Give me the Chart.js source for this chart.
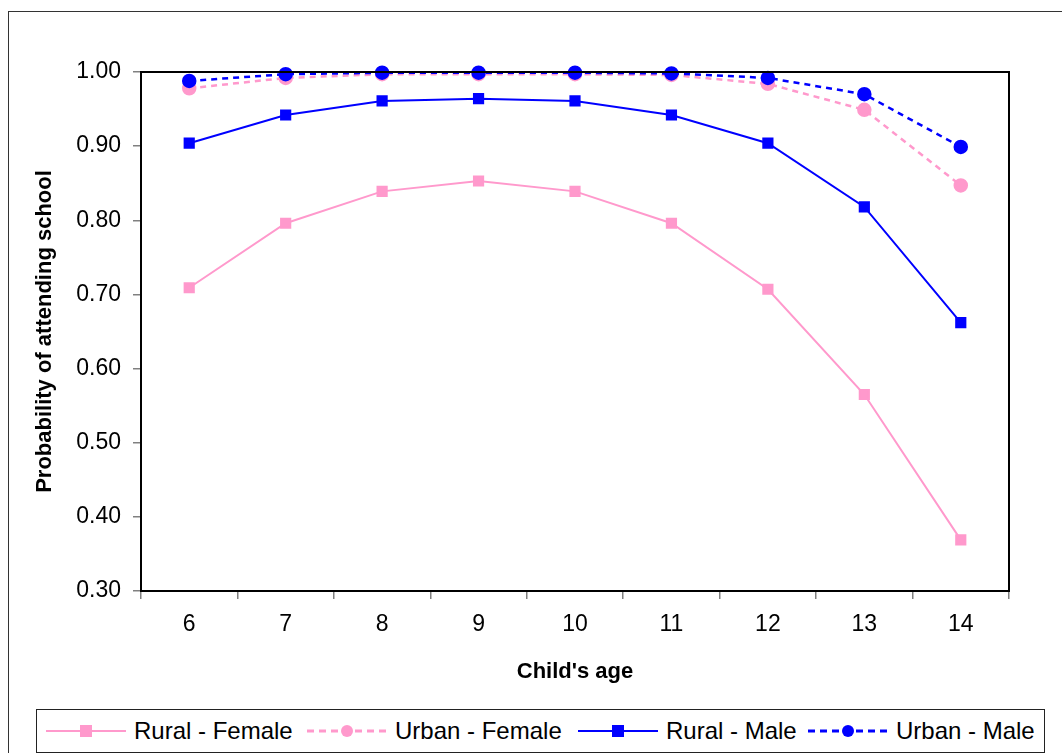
<!DOCTYPE html>
<html>
<head>
<meta charset="utf-8">
<script src="https://cdn.jsdelivr.net/npm/chart.js@4.4.1/dist/chart.umd.min.js"></script>
<style>
  body { margin: 0; background: #fff; font-family: "Liberation Sans", Arial, sans-serif; }
  #frame { position: absolute; left: 8px; top: 11px; width: 1070px; height: 760px; border: 1.5px solid #333; box-sizing: border-box; }
  #wrap { position: absolute; left: 0; top: 0; width: 1062px; height: 700px; }
  #legend { position: absolute; left: 36px; top: 709px; width: 1009px; height: 44px; border: 1px solid #222; box-sizing: border-box; background: #fff; }
  #legend .item { position: absolute; top: 0; height: 42px; display: flex; align-items: center; font-size: 24px; color: #000; white-space: nowrap; }
  #legend svg { margin-right: 8px; flex: none; }
</style>
</head>
<body>
<div id="frame"></div>
<div id="wrap"><canvas id="chart"></canvas></div>
<div id="legend"></div>
<script>
// data
var ages = ['6', '7', '8', '9', '10', '11', '12', '13', '14'];
var ruralFemale = [0.709, 0.796, 0.839, 0.853, 0.839, 0.796, 0.707, 0.565, 0.369];
var urbanFemale = [0.978, 0.992, 0.997, 0.997, 0.997, 0.996, 0.984, 0.949, 0.847];
var ruralMale = [0.904, 0.942, 0.961, 0.964, 0.961, 0.942, 0.904, 0.818, 0.662];
var urbanMale = [0.988, 0.997, 0.999, 0.999, 0.999, 0.998, 0.992, 0.970, 0.899];
var seriesNames = ['Rural - Female', 'Urban - Female', 'Rural - Male', 'Urban - Male'];

var pink = '#FF99CC';
var blue = '#0000FF';
var font = "'Liberation Sans', Arial, sans-serif";

// border around the plot area
function drawBox(chart) {
    var a = chart.chartArea, c = chart.ctx;
    c.save();
    c.strokeStyle = '#000';
    c.lineWidth = 2;
    c.strokeRect(a.left, a.top, a.right - a.left, a.bottom - a.top);
    c.restore();
}
var plotBorder = {
    id: 'plotBorder',
    beforeDatasetsDraw: drawBox,
    afterDatasetsDraw: drawBox
};

var ctx = document.getElementById('chart').getContext('2d');
var myChart = new Chart(ctx, {
    type: 'line',
    data: {
        labels: ages,
        datasets: [{
            label: seriesNames[0],
            data: ruralFemale,
            borderColor: pink,
            backgroundColor: pink,
            borderWidth: 2,
            pointStyle: 'rect',
            pointRadius: 6.5,
            order: 4
        }, {
            label: seriesNames[1],
            data: urbanFemale,
            borderColor: pink,
            backgroundColor: pink,
            borderWidth: 2.5,
            borderDash: [6, 5],
            pointStyle: 'circle',
            pointRadius: 6,
            order: 3
        }, {
            label: seriesNames[2],
            data: ruralMale,
            borderColor: blue,
            backgroundColor: blue,
            borderWidth: 2,
            pointStyle: 'rect',
            pointRadius: 6.5,
            order: 2
        }, {
            label: seriesNames[3],
            data: urbanMale,
            borderColor: blue,
            backgroundColor: blue,
            borderWidth: 2.5,
            borderDash: [6, 5],
            pointStyle: 'circle',
            pointRadius: 6,
            order: 1
        }]
    },
    options: {
        responsive: true,
        maintainAspectRatio: false,
        animation: false,
        clip: false,
        layout: { padding: { top: 72, right: 53, left: 0, bottom: 0 } },
        plugins: {
            legend: { display: false },
            tooltip: { enabled: false }
        },
        elements: { line: { tension: 0 }, point: { borderWidth: 0 } },
        scales: {
            x: {
                offset: true,
                grid: { offset: true, drawOnChartArea: false, drawTicks: true, tickLength: 8, color: '#808080', lineWidth: 1.5 },
                border: { display: false },
                ticks: { color: '#000', padding: 12, font: { family: font, size: 23 } },
                title: { display: true, text: "Child's age", color: '#000', padding: { top: 0, bottom: 15 }, font: { family: font, size: 22, weight: 'bold' } },
                afterFit: function (s) { s.height = 109; }
            },
            y: {
                min: 0.3,
                max: 1.0,
                grid: { drawOnChartArea: false, drawTicks: true, tickLength: 8, color: '#808080', lineWidth: 1.5 },
                border: { display: false },
                ticks: {
                    stepSize: 0.1,
                    color: '#000',
                    padding: 12,
                    font: { family: font, size: 23 },
                    callback: function (v) { return Number(v).toFixed(2); }
                },
                title: { display: true, text: 'Probability of attending school', color: '#000', padding: { top: 32, bottom: 0 }, font: { family: font, size: 22, weight: 'bold' } },
                afterFit: function (s) { s.width = 141; }
            }
        }
    },
    plugins: [plotBorder]
});

// legend drawn as html, samples as small svg
var legendItems = [
    { left: 9, color: pink, dash: '', shape: 'rect' },
    { left: 270, color: pink, dash: '7,5', shape: 'circle' },
    { left: 541, color: blue, dash: '', shape: 'rect' },
    { left: 771, color: blue, dash: '7,5', shape: 'circle' }
];
var $legend = document.getElementById('legend');
legendItems.forEach(function (it, i) {
    var marker = it.shape === 'rect'
        ? '<rect x="34" y="6" width="12" height="12" fill="' + it.color + '"/>'
        : '<circle cx="40" cy="12" r="6" fill="' + it.color + '"/>';
    var svg = '<svg width="80" height="24"><line x1="0" y1="12" x2="80" y2="12" stroke="' + it.color +
        '" stroke-width="' + (it.dash ? 3 : 2) + '"' + (it.dash ? ' stroke-dasharray="' + it.dash + '"' : '') + '/>' + marker + '</svg>';
    var div = document.createElement('div');
    div.className = 'item';
    div.style.left = it.left + 'px';
    div.innerHTML = svg + '<span>' + seriesNames[i] + '</span>';
    $legend.appendChild(div);
});
</script>
</body>
</html>
